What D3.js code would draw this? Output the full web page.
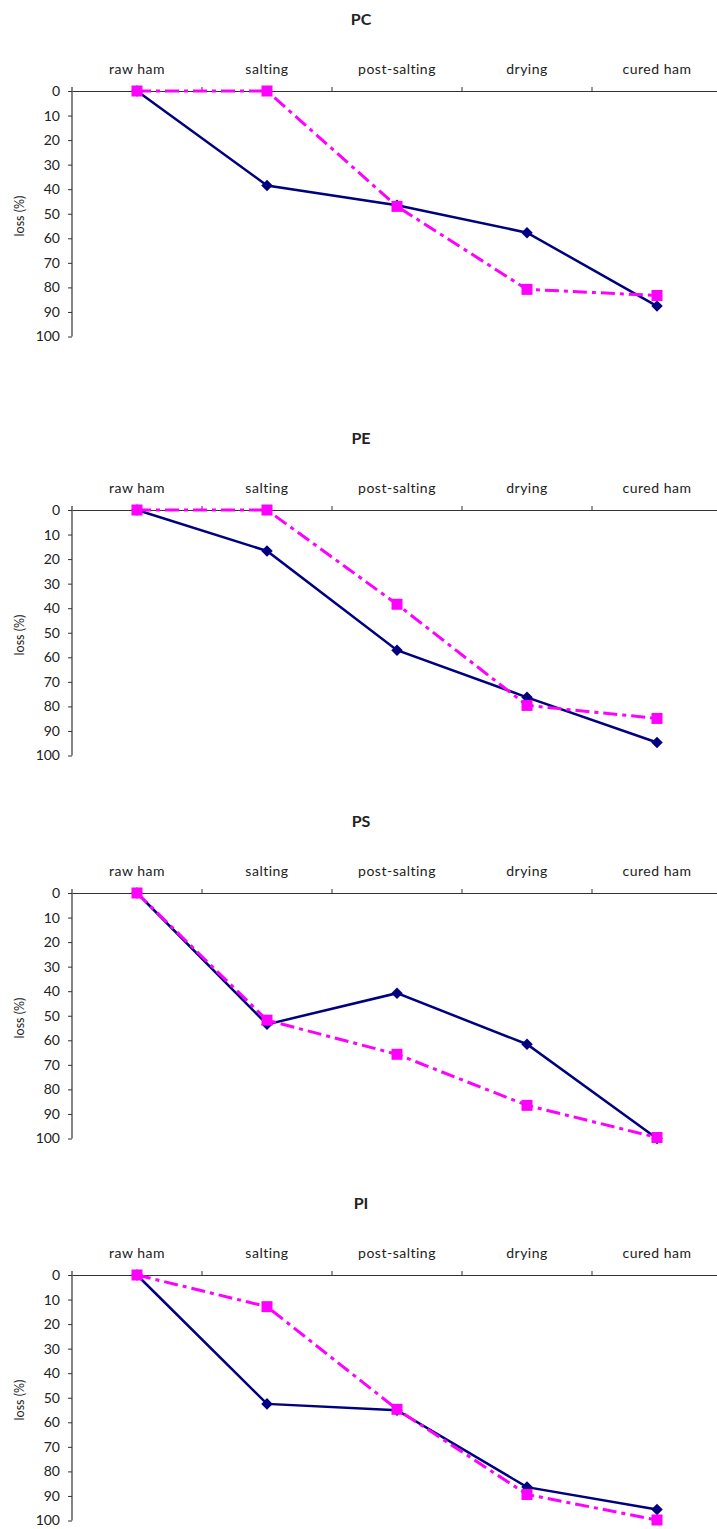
<!DOCTYPE html>
<html><head><meta charset="utf-8">
<script src="https://cdn.jsdelivr.net/npm/d3@7"></script>
<style>
body{margin:0;background:#fff;}
svg text{font-family:Lato,"Open Sans",sans-serif;fill:#222;}
</style></head>
<body>
<svg id="c" width="717" height="1529"></svg>
<script>
const categories = ["raw ham","salting","post-salting","drying","cured ham"];
const panelNames = ["PC","PE","PS","PI"];
const yTicks = [0,10,20,30,40,50,60,70,80,90,100];
const yLabel = "loss (%)";
// series: solid navy (diamonds) and dash-dot magenta (squares)
const pcSolid  = [0, 38.5, 46.5, 57.7, 87.6];
const pcDashed = [0, 0, 47, 80.8, 83.3];
const peSolid  = [0, 16.7, 57.1, 76.3, 94.7];
const peDashed = [0, 0, 38.4, 79.6, 84.9];
const psSolid  = [0, 53.5, 40.8, 61.6, 100];
const psDashed = [0, 51.8, 65.7, 86.5, 99.6];
const piSolid  = [0, 52.5, 55.1, 86.4, 95.5];
const piDashed = [0, 12.9, 54.7, 89.4, 99.8];

const solidSeries = [pcSolid, peSolid, psSolid, piSolid];
const dashedSeries = [pcDashed, peDashed, psDashed, piDashed];
const panelTops = [91, 510, 893, 1275];

const svg = d3.select("#c");
const x = d3.scaleBand().domain(categories).range([72, 722]);

panelNames.forEach((name, i) => {
  const top = panelTops[i];
  const y = d3.scaleLinear().domain([0, 100]).range([top, top + 245.5]);
  const g = svg.append("g");

  g.append("text").attr("x", 361).attr("y", top - 73).attr("text-anchor", "middle")
    .attr("dominant-baseline", "central").attr("font-weight", "bold").attr("font-size", 16).text(name);

  // top category axis
  const xa = g.append("g").attr("transform", `translate(0,${top})`)
    .call(d3.axisTop(x).tickSize(0).tickPadding(17));
  xa.select(".domain").attr("stroke", "#333").attr("stroke-width", 1.2);
  xa.selectAll("text").attr("font-size", 14).attr("letter-spacing", 0.5).attr("fill", "#222");
  // boundary ticks
  const bounds = categories.map(c => x(c)).slice(1);
  g.selectAll(".bt").data(bounds).enter().append("line")
    .attr("x1", d => d).attr("x2", d => d).attr("y1", top).attr("y2", top - 4)
    .attr("stroke", "#333").attr("stroke-width", 1);

  // left value axis
  const ya = g.append("g").attr("transform", "translate(72,0)")
    .call(d3.axisLeft(y).tickValues(yTicks).tickSize(4).tickPadding(8).tickSizeOuter(0));
  ya.select(".domain").attr("stroke", "#333").attr("stroke-width", 1.2)
    .attr("d", `M0,${top - 4}V${top + 245.5}`);
  ya.selectAll(".tick line").attr("stroke", "#333");
  ya.selectAll("text").attr("font-size", 14).attr("fill", "#222");

  g.append("text").attr("transform", `translate(19,${top + 125}) rotate(-90)`)
    .attr("text-anchor", "middle").attr("dominant-baseline", "central")
    .attr("font-size", 12.5).text(yLabel);

  const cx = c => x(c) + x.bandwidth() / 2;
  const line = d3.line().x((d, j) => cx(categories[j])).y(d => y(d));

  g.append("path").datum(solidSeries[i]).attr("d", line).attr("fill", "none")
    .attr("stroke", "#000080").attr("stroke-width", 2.5);
  g.append("path").datum(dashedSeries[i]).attr("d", line).attr("fill", "none")
    .attr("stroke", "#FF00FF").attr("stroke-width", 3).attr("stroke-dasharray", "14,5,4,5");

  g.selectAll(".dm").data(solidSeries[i]).enter().append("path")
    .attr("d", d3.symbol().type(d3.symbolDiamond2).size(85))
    .attr("transform", (d, j) => `translate(${cx(categories[j])},${y(d)})`)
    .attr("fill", "#000080");
  g.selectAll(".sq").data(dashedSeries[i]).enter().append("rect")
    .attr("x", (d, j) => cx(categories[j]) - 5.5).attr("y", d => y(d) - 5.5)
    .attr("width", 11).attr("height", 11).attr("fill", "#FF00FF");
});
</script>
</body></html>
